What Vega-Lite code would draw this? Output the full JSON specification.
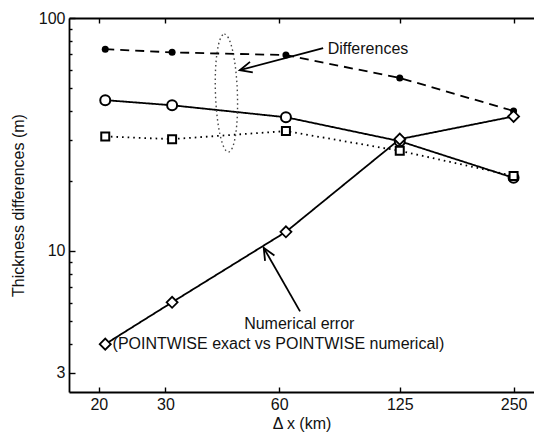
{
  "$schema": "https://vega.github.io/schema/vega-lite/v6.json",
  "width": 465,
  "height": 374,
  "autosize": {"type": "none"},
  "padding": {"left": 69, "top": 18, "right": 0, "bottom": 40},
  "background": "white",
  "config": {
    "view": {"stroke": null},
    "font": "Liberation Sans",
    "axis": {
      "grid": false,
      "domainColor": "black",
      "domainWidth": 1.8,
      "tickColor": "black",
      "tickWidth": 1.4,
      "labelFont": "Liberation Sans",
      "labelFontSize": 16,
      "labelColor": "#111",
      "titleFont": "Liberation Sans",
      "titleFontSize": 16,
      "titleFontWeight": "normal",
      "titleColor": "#111"
    }
  },
  "datasets": {
    "series": [
      {"series": "A", "dx": 20.8, "v": 73.5},
      {"series": "A", "dx": 31.25, "v": 71.2},
      {"series": "A", "dx": 62.5, "v": 69.3},
      {"series": "A", "dx": 125, "v": 55.3},
      {"series": "A", "dx": 250, "v": 39.9},
      {"series": "B", "dx": 20.8, "v": 44.4},
      {"series": "B", "dx": 31.25, "v": 42.2},
      {"series": "B", "dx": 62.5, "v": 37.5},
      {"series": "B", "dx": 125, "v": 29.6},
      {"series": "B", "dx": 250, "v": 20.6},
      {"series": "C", "dx": 20.8, "v": 31.0},
      {"series": "C", "dx": 31.25, "v": 30.2},
      {"series": "C", "dx": 62.5, "v": 32.7},
      {"series": "C", "dx": 125, "v": 26.9},
      {"series": "C", "dx": 250, "v": 21.0},
      {"series": "D", "dx": 20.8, "v": 3.98},
      {"series": "D", "dx": 31.25, "v": 6.02},
      {"series": "D", "dx": 62.5, "v": 12.08},
      {"series": "D", "dx": 125, "v": 30.2},
      {"series": "D", "dx": 250, "v": 37.8}
    ],
    "arrows": [
      {"id": "diff", "x1": 78.4, "y1": 74.3, "x2": 47.2, "y2": 59.7},
      {"id": "num", "x1": 68.1, "y1": 5.5, "x2": 54.6, "y2": 10.31}
    ],
    "labels": [
      {"text": "Differences", "x": 103.0, "y": 73.5},
      {"text": "Numerical error", "x": 67.8, "y": 4.87},
      {"text": "(POINTWISE exact vs POINTWISE numerical)", "x": 59.7, "y": 3.98}
    ],
    "ellipse": [{"x": 43.5, "y": 47.6}]
  },
  "resolve": {"axis": {"x": "independent", "y": "independent"}},
  "layer": [
    {
      "data": {"name": "series"},
      "mark": {"type": "line", "color": "black", "strokeWidth": 1.8},
      "encoding": {
        "x": {
          "field": "dx", "type": "quantitative",
          "scale": {"type": "log", "domain": [16.68, 283.1], "nice": false, "zero": false},
          "axis": {
            "orient": "bottom",
            "values": [20, 30, 60, 125, 250],
            "format": "d",
            "tickSize": -5,
            "labelPadding": 9,
            "title": "Δ x  (km)",
            "titlePadding": 3
          }
        },
        "y": {
          "field": "v", "type": "quantitative",
          "scale": {"type": "log", "domain": [2.48, 100], "nice": false, "zero": false},
          "axis": {
            "orient": "left",
            "values": [3, 4, 5, 6, 7, 8, 9, 10, 20, 30, 40, 50, 60, 70, 80, 90, 100],
            "labelExpr": "(datum.value == 3 || datum.value == 10 || datum.value == 100) ? datum.label : ''",
            "tickSize": {"condition": {"test": "datum.value == 3 || datum.value == 10 || datum.value == 100", "value": -6}, "value": -3},
            "labelPadding": 10,
            "title": "Thickness differences (m)",
            "titlePadding": 12
          }
        },
        "detail": {"field": "series", "type": "nominal"},
        "strokeDash": {
          "field": "series", "type": "nominal",
          "scale": {"domain": ["A", "B", "C", "D"], "range": [[9, 6], [1, 0], [1.6, 4], [1, 0]]},
          "legend": null
        }
      }
    },
    {
      "data": {"name": "series"},
      "transform": [{"filter": "datum.series == 'A'"}],
      "mark": {"type": "point", "shape": "circle", "size": 49, "filled": true, "color": "black", "opacity": 1},
      "encoding": {
        "x": {"field": "dx", "type": "quantitative", "axis": null},
        "y": {"field": "v", "type": "quantitative", "axis": null}
      }
    },
    {
      "data": {"name": "series"},
      "transform": [{"filter": "datum.series == 'B'"}],
      "mark": {"type": "point", "shape": "circle", "size": 100, "filled": true, "fill": "white", "stroke": "black", "strokeWidth": 2, "opacity": 1},
      "encoding": {
        "x": {"field": "dx", "type": "quantitative", "axis": null},
        "y": {"field": "v", "type": "quantitative", "axis": null}
      }
    },
    {
      "data": {"name": "series"},
      "transform": [{"filter": "datum.series == 'C'"}],
      "mark": {"type": "point", "shape": "square", "size": 64, "filled": true, "fill": "white", "stroke": "black", "strokeWidth": 2, "opacity": 1},
      "encoding": {
        "x": {"field": "dx", "type": "quantitative", "axis": null},
        "y": {"field": "v", "type": "quantitative", "axis": null}
      }
    },
    {
      "data": {"name": "series"},
      "transform": [{"filter": "datum.series == 'D'"}],
      "mark": {"type": "point", "shape": "diamond", "size": 121, "filled": true, "fill": "white", "stroke": "black", "strokeWidth": 1.8, "opacity": 1},
      "encoding": {
        "x": {"field": "dx", "type": "quantitative", "axis": null},
        "y": {"field": "v", "type": "quantitative", "axis": null}
      }
    },
    {
      "data": {"name": "arrows"},
      "mark": {"type": "rule", "color": "black", "strokeWidth": 1.8},
      "encoding": {
        "x": {"field": "x1", "type": "quantitative", "axis": null},
        "y": {"field": "y1", "type": "quantitative", "axis": null},
        "x2": {"field": "x2"},
        "y2": {"field": "y2"}
      }
    },
    {
      "data": {"name": "arrows"},
      "transform": [{"filter": "datum.id == 'diff'"}],
      "mark": {"type": "point", "shape": "M-0.45,1L0,0L0.45,1", "size": 576, "angle": 255, "filled": false, "stroke": "black", "strokeWidth": 1.8, "opacity": 1},
      "encoding": {
        "x": {"field": "x2", "type": "quantitative", "axis": null},
        "y": {"field": "y2", "type": "quantitative", "axis": null}
      }
    },
    {
      "data": {"name": "arrows"},
      "transform": [{"filter": "datum.id == 'num'"}],
      "mark": {"type": "point", "shape": "M-0.45,1L0,0L0.45,1", "size": 576, "angle": 330, "filled": false, "stroke": "black", "strokeWidth": 1.8, "opacity": 1},
      "encoding": {
        "x": {"field": "x2", "type": "quantitative", "axis": null},
        "y": {"field": "y2", "type": "quantitative", "axis": null}
      }
    },
    {
      "data": {"name": "labels"},
      "mark": {"type": "text", "font": "Liberation Sans", "fontSize": 16, "color": "#111", "align": "center", "baseline": "middle"},
      "encoding": {
        "x": {"field": "x", "type": "quantitative", "axis": null},
        "y": {"field": "y", "type": "quantitative", "axis": null},
        "text": {"field": "text"}
      }
    },
    {
      "data": {"name": "ellipse"},
      "mark": {"type": "point", "shape": "M0,-1C0.103,-1,0.186,-0.552,0.186,0C0.186,0.552,0.103,1,0,1C-0.103,1,-0.186,0.552,-0.186,0C-0.186,-0.552,-0.103,-1,0,-1Z", "size": 13924, "angle": -2, "filled": false, "stroke": "#444", "strokeWidth": 1.4, "strokeDash": [1.5, 3], "opacity": 1},
      "encoding": {
        "x": {
          "field": "x", "type": "quantitative",
          "axis": {"orient": "top", "values": [20, 30, 60, 125, 250], "labels": false, "title": null, "tickSize": -5, "domain": true}
        },
        "y": {"field": "y", "type": "quantitative", "axis": null}
      }
    }
  ]
}
